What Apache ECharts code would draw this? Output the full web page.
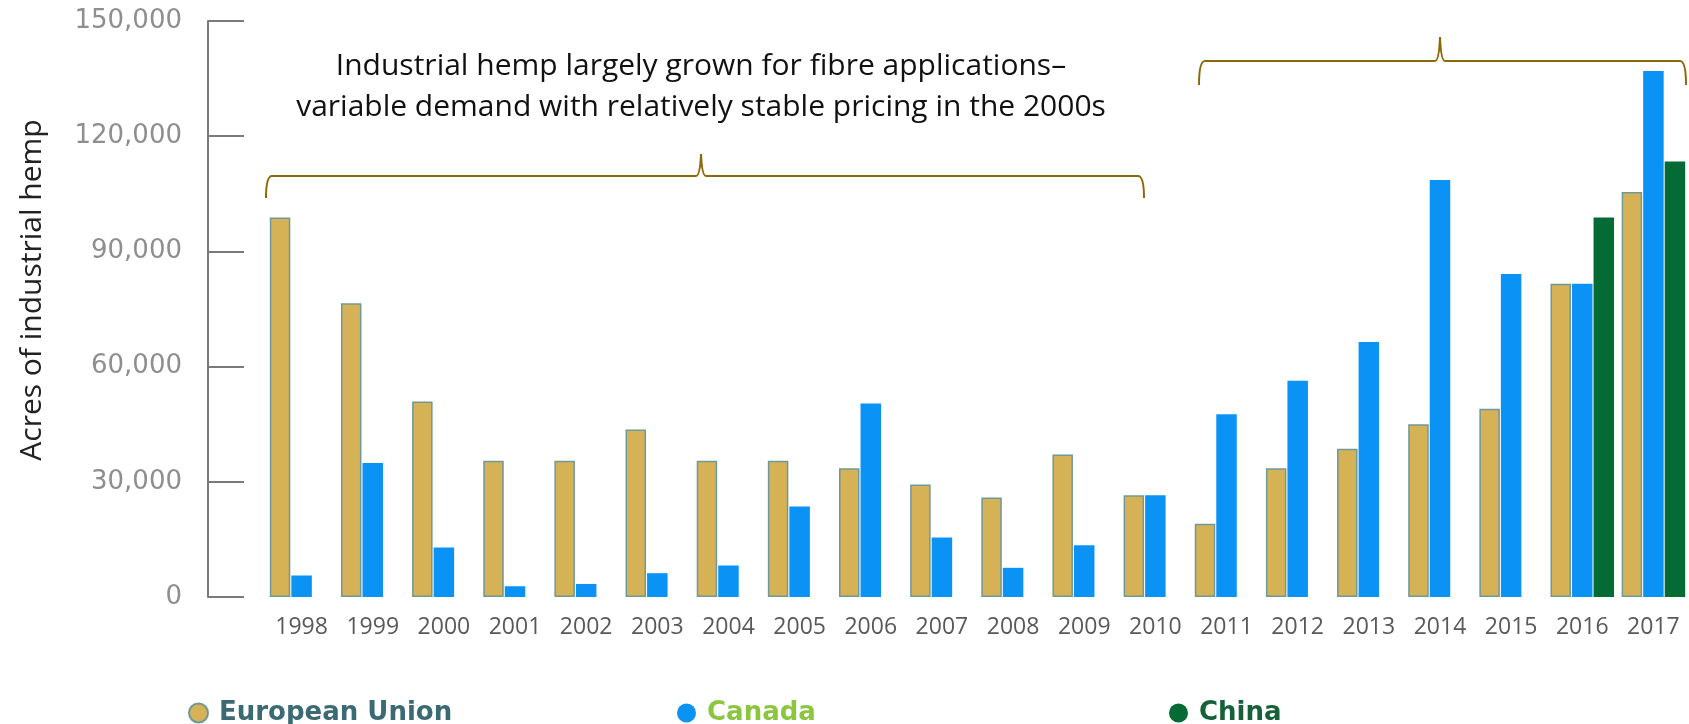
<!DOCTYPE html>
<html>
<head>
<meta charset="utf-8">
<script src="https://cdn.jsdelivr.net/npm/echarts@6/dist/echarts.min.js"></script>
<style>
  html, body { margin: 0; padding: 0; background: #fff; }
  #chart { width: 1689px; height: 724px; }
</style>
</head>
<body>
<div id="chart"></div>
<script>
// values (acres)
const years = ['1998', '1999', '2000', '2001', '2002', '2003', '2004', '2005', '2006', '2007',
               '2008', '2009', '2010', '2011', '2012', '2013', '2014', '2015', '2016', '2017'];
const euAcres = [98800, 76500, 50900, 35500, 35500, 43600, 35500, 35500, 33500, 29300,
                 25900, 37100, 26500, 19100, 33500, 38600, 45000, 49000, 81600, 105500];
const canadaAcres = [5600, 34900, 12900, 2800, 3400, 6200, 8200, 23600, 50400, 15500,
                     7600, 13500, 26500, 47600, 56300, 66400, 108600, 84100, 81600, 137000];
const chinaAcres = [null, null, null, null, null, null, null, null, null, null,
                    null, null, null, null, null, null, null, null, 98800, 113400];
const yTicks = [0, 30000, 60000, 90000, 120000, 150000];

const yTitle = 'Acres of industrial hemp';
const noteLines = ['Industrial hemp largely grown for fibre applications\u2013',
                   'variable demand with relatively stable pricing in the 2000s'];

const chart = echarts.init(document.getElementById('chart'));

const braceColor = '#8a6a08';

// curly brace pointing up, built from lines and curves
function brace(x1, x2, xm, yLine, yEnd, yPeak) {
    const r = 6;
    const st = { stroke: braceColor, lineWidth: 2, fill: null };
    const curve = (ax, ay, bx, by, cx, cy) => ({
        type: 'bezierCurve', silent: true,
        shape: { x1: ax, y1: ay, x2: bx, y2: by, cpx1: cx, cpy1: cy },
        style: st
    });
    const line = (ax, ay, bx, by) => ({
        type: 'line', silent: true,
        shape: { x1: ax, y1: ay, x2: bx, y2: by },
        style: st
    });
    return [
        curve(x1, yEnd, x1 + r, yLine, x1, yLine),
        line(x1 + r, yLine, xm - 5, yLine),
        curve(xm - 5, yLine, xm, yPeak, xm - 1, yLine),
        curve(xm, yPeak, xm + 5, yLine, xm + 1, yLine),
        line(xm + 5, yLine, x2 - r, yLine),
        curve(x2 - r, yLine, x2, yEnd, x2, yLine)
    ];
}

const legendText = (color) => ({
    color: color, fontSize: 26, fontWeight: 'bold', fontFamily: 'DejaVu Sans',
    padding: [0, 0, 0, 6]
});

const option = {
    animation: false,
    grid: { left: 266, top: 21, width: 1427, height: 576, containLabel: false },
    legend: [
        {
            data: ['European Union'], left: 183, top: 695, icon: 'circle',
            itemWidth: 19, itemHeight: 19, textStyle: legendText('#3b6a73')
        },
        {
            data: ['Canada'], left: 672, top: 695, icon: 'circle',
            itemWidth: 19, itemHeight: 19, textStyle: legendText('#8cc63f')
        },
        {
            data: ['China'], left: 1164, top: 695, icon: 'circle',
            itemWidth: 19, itemHeight: 19, textStyle: legendText('#17613a')
        }
    ],
    xAxis: {
        type: 'category',
        data: years,
        axisLine: { show: false },
        axisTick: { show: false },
        axisLabel: { interval: 0, color: '#595959', fontSize: 23, fontFamily: 'Open Sans', margin: 19 }
    },
    yAxis: {
        type: 'value',
        min: 0,
        max: yTicks[yTicks.length - 1],
        interval: yTicks[1] - yTicks[0],
        offset: 58,
        axisLine: { show: true, lineStyle: { color: '#7a7a7a', width: 2 } },
        axisTick: { show: true, inside: true, length: 36, lineStyle: { color: '#7a7a7a', width: 2 } },
        splitLine: { show: false },
        axisLabel: {
            color: '#8e8e8e', fontSize: 26, fontFamily: 'DejaVu Sans', margin: 26,
            formatter: v => String(v).replace(/\B(?=(\d{3})+(?!\d))/g, ',')
        }
    },
    series: [
        {
            name: 'European Union', type: 'bar', data: euAcres,
            barWidth: 20.5, barGap: '5%',
            itemStyle: { color: '#d5b255', borderColor: '#6f9898', borderWidth: 1.5 }
        },
        {
            name: 'Canada', type: 'bar', data: canadaAcres,
            barWidth: 20.5, barGap: '5%',
            itemStyle: { color: '#0a93f4' }
        },
        {
            name: 'China', type: 'bar', data: chinaAcres,
            barWidth: 20.5, barGap: '5%',
            itemStyle: { color: '#046b35' }
        }
    ],
    graphic: [].concat(
        brace(266, 1144, 701, 176, 198, 154),
        brace(1199, 1686, 1440, 61, 85, 37),
        [
            {
                type: 'text', silent: true, x: 701, y: 66,
                style: { text: noteLines[0], fill: '#111', fontSize: 30, fontFamily: 'Open Sans',
                         align: 'center', verticalAlign: 'middle' }
            },
            {
                type: 'text', silent: true, x: 701, y: 107,
                style: { text: noteLines[1], fill: '#111', fontSize: 30, fontFamily: 'Open Sans',
                         align: 'center', verticalAlign: 'middle' }
            },
            {
                type: 'text', silent: true, x: 32, y: 290, rotation: Math.PI / 2,
                style: { text: yTitle, fill: '#222', fontSize: 30, fontFamily: 'Open Sans',
                         align: 'center', verticalAlign: 'middle' }
            }
        ]
    )
};

chart.setOption(option);
</script>
</body>
</html>
